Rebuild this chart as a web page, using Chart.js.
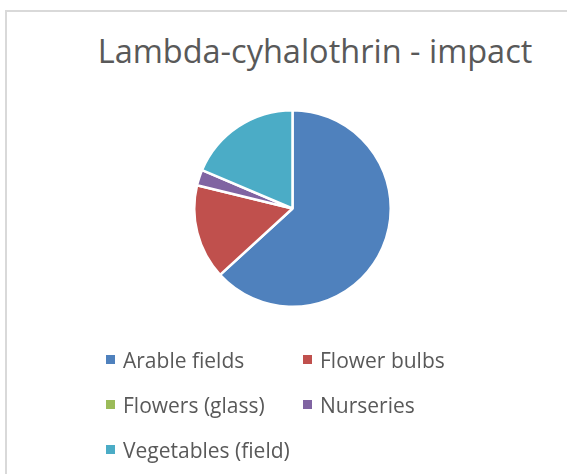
<!DOCTYPE html>
<html>
<head>
<meta charset="utf-8">
<script src="https://cdn.jsdelivr.net/npm/chart.js@4/dist/chart.umd.min.js"></script>
<style>
  html, body { margin: 0; padding: 0; background: #fff; }
  body { width: 567px; height: 474px; position: relative; overflow: hidden; font-family: 'Open Sans', sans-serif; color: #595959; }
  #frame { position: absolute; left: 5px; top: 10px; width: 620px; height: 520px;
           border-left: 2px solid #d9d9d9; border-top: 2px solid #d9d9d9; }
  #title { position: absolute; left: 0; width: 630px; top: 31px; text-align: center;
           font-size: 32.5px; line-height: 40px; white-space: nowrap; }
  #pie { position: absolute; left: 0; top: 0; }
  #legend { position: absolute; left: 106px; top: 337px; display: grid;
            grid-template-columns: 197px 200px; row-gap: 0; }
  .item { height: 45px; display: flex; align-items: center; font-size: 21px; white-space: nowrap; }
  .box { width: 9px; height: 9px; margin-right: 8px; flex: none; }
</style>
</head>
<body>
<div id="frame"></div>
<div id="title">Lambda-cyhalothrin - impact</div>
<canvas id="pie" width="567" height="474"></canvas>
<div id="legend"></div>
<script>
'use strict';

const CATEGORIES = ['Arable fields', 'Flower bulbs', 'Flowers (glass)', 'Nurseries', 'Vegetables (field)'];
const IMPACT     = [63.2, 15.6, 0, 2.6, 18.6];
const COLORS     = ['#4f81bd', '#c0504d', '#9bbb59', '#8064a2', '#4bacc6'];

// legend as a two-column grid, like the original
const legend = document.getElementById('legend');
CATEGORIES.forEach((name, i) => {
  const item = document.createElement('div');
  item.className = 'item';
  const box = document.createElement('span');
  box.className = 'box';
  box.style.background = COLORS[i];
  item.appendChild(box);
  item.appendChild(document.createTextNode(name));
  legend.appendChild(item);
});

new Chart(document.getElementById('pie'), {
  type: 'pie',
  data: {
    labels: CATEGORIES,
    datasets: [{
      data: IMPACT,
      backgroundColor: COLORS,
      borderColor: '#ffffff',
      borderWidth: 2.5,
    }],
  },
  options: {
    responsive: false,
    animation: false,
    layout: { padding: { left: 193, top: 109, right: 175, bottom: 166 } },
    plugins: {
      legend: { display: false },
      title: { display: false },
      tooltip: { enabled: false },
    },
  },
});
</script>
</body>
</html>
